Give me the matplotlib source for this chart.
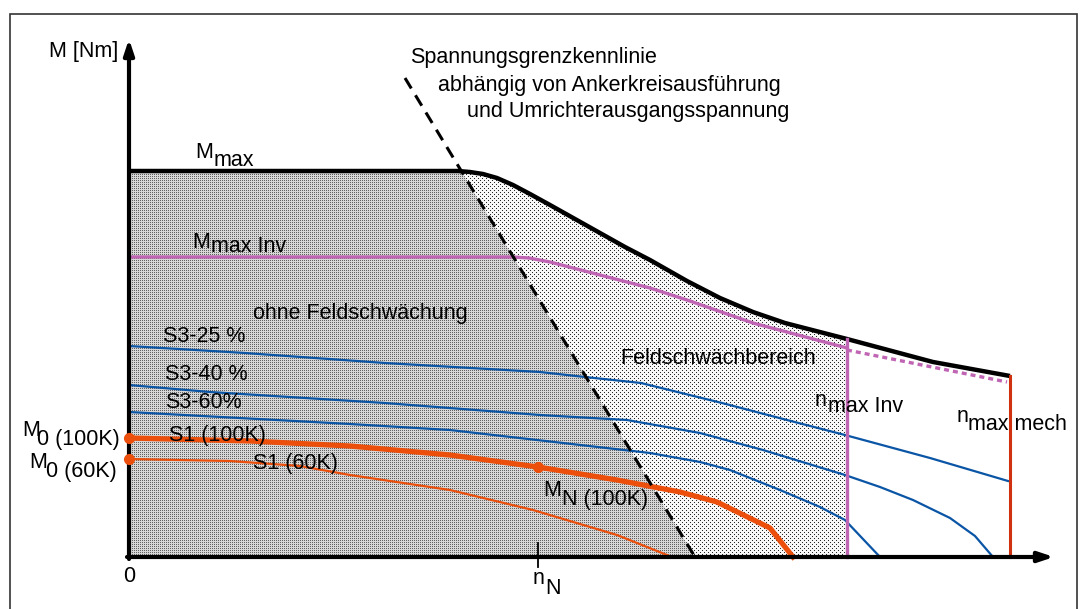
"""Drehmoment-Drehzahl-Kennlinien eines Servomotors (schematisch)."""

import matplotlib
matplotlib.use("Agg")
import matplotlib.pyplot as plt
import numpy as np
from matplotlib.patches import Polygon

plt.rcParams["font.family"] = ["Liberation Sans", "DejaVu Sans"]

# speed n and torque M in arbitrary units
mmax_n = [0, 329, 341, 354, 368, 384, 401, 421, 446, 471, 496, 521, 558, 591, 624, 656, 718, 804, 881]
mmax_m = [386, 386, 385, 383, 379, 372, 363, 352, 338, 324, 310, 297, 276, 259, 245, 234, 218, 195, 181]

inv_n = [0, 384, 400, 421, 471, 521, 558, 624, 718]
inv_m = [300, 300, 299, 295, 282, 269, 257, 234, 209]
inv_dotted_n = [718, 878]
inv_dotted_m = [207, 175]

s3_25_n = [0, 116, 256, 411, 456, 512, 593, 658, 716, 801, 879]
s3_25_m = [211, 204, 194, 185, 180, 174, 154, 137, 122, 99, 76]
s3_40_n = [0, 81, 256, 411, 498, 571, 634, 716, 751, 784, 821, 846, 864]
s3_40_m = [172, 165, 154, 142, 137, 124, 107, 82, 70, 57, 39, 21, 0]
s3_60_n = [0, 221, 321, 521, 571, 601, 651, 691, 716, 751]
s3_60_m = [145, 133, 127, 104, 95, 87, 67, 50, 37, 0]

s1_100_n = [0, 121, 221, 321, 409, 488, 551, 588, 641, 664]
s1_100_m = [119, 116, 111, 102, 90, 77, 65, 55, 29, 0]
s1_60_n = [0, 101, 171, 221, 321, 404, 488, 543]
s1_60_m = [98, 96, 91, 82, 67, 47, 22, 0]

voltage_n = [276, 566]
voltage_m = [479, 0]

n_nenn = 409
n_max_inv = 718
n_max_mech = 881

BLUE = "#0a55a5"
ORANGE = "#ec4f0c"
PURPLE = "#c064b4"
RED = "#d0320f"
FS = 15.5

fig = plt.figure(figsize=(10.88, 6.09), dpi=100)
ax = fig.add_axes([0, 0, 1, 1])
ax.set_xlim(-129, 959)
ax.set_ylim(-52, 557)
ax.axis("off")

# frame around the sketch
ax.add_patch(plt.Rectangle((-119, -80), 1067, 623, fill=False, ec="#333333", lw=1.2))

# stippled operating regions (pixel dot textures clipped to the regions)
n_fine = np.linspace(0, n_max_inv, 600)
m_top = np.interp(n_fine, mmax_n, mmax_m)
m_volt = np.minimum(m_top, np.interp(n_fine, voltage_n, voltage_m))

rows, cols = np.mgrid[0:609, 0:1088]
dense = np.where((rows % 2 == 0) & (cols % 2 == 0), 0.38, 0.84)
sparse_dots = ((rows % 4 == 0) & (cols % 4 == 0)) | ((rows % 4 == 2) & (cols % 4 == 2))
sparse = np.where(sparse_dots, 0.15, 0.97)

dense_poly = Polygon(np.column_stack([np.r_[n_fine, n_fine[::-1]], np.r_[m_volt, np.zeros_like(n_fine)]]),
                     transform=ax.transData)
sparse_poly = Polygon(np.column_stack([np.r_[n_fine, n_fine[::-1]], np.r_[m_top, m_volt[::-1]]]),
                      transform=ax.transData)
for texture, poly in ((dense, dense_poly), (sparse, sparse_poly)):
    im = ax.imshow(texture, cmap="gray", vmin=0, vmax=1, extent=(-129, 959, -52, 557),
                   interpolation="nearest", aspect="auto", zorder=1)
    im.set_clip_path(poly)

# characteristic curves
ax.plot(s3_25_n, s3_25_m, color=BLUE, lw=1.6, zorder=3)
ax.plot(s3_40_n, s3_40_m, color=BLUE, lw=1.6, zorder=3)
ax.plot(s3_60_n, s3_60_m, color=BLUE, lw=1.6, zorder=3)
ax.plot(s1_60_n, s1_60_m, color=ORANGE, lw=1.6, zorder=3)
ax.plot(s1_100_n, s1_100_m, color=ORANGE, lw=3.8, zorder=3)
ax.plot(inv_n, inv_m, color=PURPLE, lw=2.4, zorder=3)
ax.plot(inv_dotted_n, inv_dotted_m, color=PURPLE, lw=2.4, ls=(0, (1.5, 1.2)), zorder=3)
ax.plot(mmax_n, mmax_m, color="black", lw=3.2, zorder=4, solid_capstyle="butt")
ax.plot(voltage_n, voltage_m, color="black", lw=2.2, ls=(0, (4, 2.6)), zorder=4)
ax.plot([n_max_inv, n_max_inv], [0, np.interp(n_max_inv, mmax_n, mmax_m)],
        color=PURPLE, lw=2.4, zorder=4)
ax.plot([n_max_mech, n_max_mech], [0, mmax_m[-1]], color=RED, lw=2.2, zorder=4)

# markers
ax.plot([0, 0, n_nenn], [s1_100_m[0], s1_60_m[0], np.interp(n_nenn, s1_100_n, s1_100_m)],
        "o", color=ORANGE, ms=7, zorder=6, clip_on=False)

# axes with arrows
arrow = dict(arrowstyle="-|>,head_length=0.9,head_width=0.3", lw=3, color="black",
             shrinkA=0, shrinkB=0)
ax.annotate("", xy=(0, 518), xytext=(0, -2), arrowprops=arrow, zorder=5)
ax.annotate("", xy=(925, 0), xytext=(-2, 0), arrowprops=arrow, zorder=5)
ax.plot([n_nenn, n_nenn], [-10, 14], color="black", lw=1.3, zorder=5)

# labels
ax.text(-11, 505, "M [Nm]", fontsize=FS, ha="right", va="center")
ax.text(0, -19, "0", fontsize=FS, ha="center", va="center")
ax.text(281, 499, "Spannungsgrenzkennlinie", fontsize=FS, va="center")
ax.text(309, 472, "abhängig von Ankerkreisausführung", fontsize=FS, va="center")
ax.text(338, 445, "und Umrichterausgangsspannung", fontsize=FS, va="center")

ax.text(66, 404, "M", fontsize=FS, va="center", zorder=7)
ax.text(85, 397, "max", fontsize=FS, va="center", zorder=7)
ax.text(63, 314, "M", fontsize=FS, va="center", zorder=7)
ax.text(82, 310, "max Inv", fontsize=FS, va="center", zorder=7)
ax.text(124, 244, "ohne Feldschwächung", fontsize=FS, va="center", zorder=7)
ax.text(34, 220, "S3-25 %", fontsize=FS, va="center", zorder=7)
ax.text(36, 182, "S3-40 %", fontsize=FS, va="center", zorder=7)
ax.text(36, 154, "S3-60%", fontsize=FS, va="center", zorder=7)
ax.text(40, 121, "S1 (100K)", fontsize=FS, va="center", zorder=7)
ax.text(124, 94, "S1 (60K)", fontsize=FS, va="center", zorder=7)
ax.text(491, 199, "Feldschwächbereich", fontsize=FS, va="center", zorder=7)

ax.text(-89, 126, "M", fontsize=FS, ha="right", va="center")
ax.text(-9, 117, "0 (100K)", fontsize=FS, ha="right", va="center")
ax.text(-82, 95, "M", fontsize=FS, ha="right", va="center")
ax.text(-12, 86, "0 (60K)", fontsize=FS, ha="right", va="center")

ax.text(414, 66, "M", fontsize=FS, va="center", zorder=7)
ax.text(433, 57, "N (100K)", fontsize=FS, va="center", zorder=7)
ax.text(404, -21, "n", fontsize=FS, va="center")
ax.text(416, -31, "N", fontsize=FS, va="center")
ax.text(686, 157, "n", fontsize=FS, va="center", zorder=7)
ax.text(699, 150, "max Inv", fontsize=FS, va="center", zorder=7)
ax.text(828, 140, "n", fontsize=FS, va="center", zorder=7)
ax.text(839, 133, "max mech", fontsize=FS, va="center", zorder=7)

fig.savefig("out.png", dpi=100)
